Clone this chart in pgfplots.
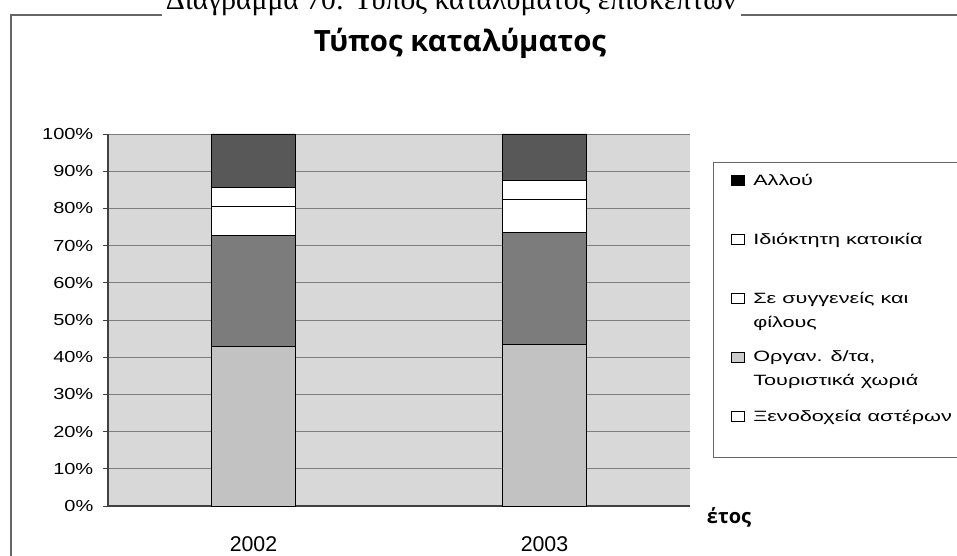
\documentclass[border=0pt]{standalone}
\usepackage{pgfplots}
\pgfplotsset{compat=1.18}
\usepackage{fontspec}
\setmainfont{Liberation Sans}
\newfontfamily\tickfont[FakeStretch=1.25]{Liberation Sans}
\newfontfamily\legfont[FakeStretch=1.45]{Liberation Sans}
\newfontfamily\titlefont{Open Sans}
\newfontfamily\capfont{Liberation Serif}
\definecolor{bg}{RGB}{216,216,216}
\definecolor{c1}{RGB}{194,194,194}
\definecolor{c2}{RGB}{124,124,124}
\definecolor{c5}{RGB}{88,88,88}
\definecolor{gridc}{RGB}{125,125,125}
\newcommand{\legimg}[1]{\path[draw=none,fill=none] (0pt,-13pt) rectangle (9.75pt,13pt); \draw[black,line width=0.6pt,fill=#1] (0pt,4.85pt) rectangle (9.75pt,12.35pt);}
\begin{document}
\begin{tikzpicture}
\useasboundingbox (0pt,0pt) rectangle (717.75pt,-417pt);
\clip (0pt,0pt) rectangle (717.75pt,-417pt);
\begin{scope}[x=0.75pt,y=-0.75pt]
  \draw[gray!80!black,line width=0.8pt] (11,600) -- (11,15) -- (162,15);
  \draw[gray!80!black,line width=0.8pt] (741,15) -- (970,15);
  \node[anchor=base,inner sep=0pt] at (451,10) {\capfont\fontsize{22.2pt}{24pt}\selectfont Διάγραμμα 70: Τύπος καταλύματος επισκεπτών};
  \node[anchor=base,inner sep=0pt] at (460,52) {\titlefont\bfseries\fontsize{22pt}{24pt}\selectfont Τύπος καταλύματος};
  \node[anchor=base,inner sep=0pt] at (729,523.5) {\titlefont\bfseries\fontsize{15pt}{18pt}\selectfont έτος};
\end{scope}
\begin{axis}[
  at={(81pt,-379.5pt)}, anchor=south west,
  scale only axis, width=436.5pt, height=279pt,
  ybar stacked, bar width=63pt,
  xmin=-0.5, xmax=1.5, ymin=0, ymax=100,
  enlargelimits=false,
  axis x line=bottom, axis y line=left,
  axis line style={-, draw=black!75, line width=0.8pt},
  axis background/.style={fill=bg},
  xtick={0,1}, xticklabels={2002,2003},
  major x tick style={draw=none},
  extra x ticks={0.5},
  extra x tick labels={},
  extra x tick style={major tick style={draw=black!70}, tick align=outside, major tick length=3.75pt, grid=none},
  xticklabel style={font=\fontsize{16pt}{18pt}\selectfont, anchor=base, yshift=-30pt},
  ytick={0,10,...,100},
  yticklabels={0\%,10\%,20\%,30\%,40\%,50\%,60\%,70\%,80\%,90\%,100\%},
  yticklabel style={font=\tickfont\fontsize{12pt}{14pt}\selectfont, anchor=east, xshift=-3.75pt},
  tick align=outside, major tick length=3.75pt,
  y tick style={draw=black!75, line width=0.7pt},
  ymajorgrids, grid style={draw=gridc, line width=0.7pt},
  reverse legend,
  legend style={at={(1.0395,0.926)}, anchor=north west, draw=black!60, line width=0.7pt, fill=white,
    inner xsep=13.5pt, inner ysep=9pt, row sep=18pt, column sep=6pt,
    font=\legfont\fontsize{11.2pt}{18pt}\selectfont,
    nodes={inner sep=0pt, text depth=}, cells={anchor=west}},
  every axis plot/.append style={draw=black, line width=0.7pt},
]
\addplot[fill=c1, legend image code/.code={\legimg{white}}] coordinates {(0,42.8) (1,43.3)};
\addlegendentry{\parbox[c][26.25pt][t]{160pt}{Ξενοδοχεία αστέρων}}
\addplot[fill=c2, legend image code/.code={\legimg{black!20}}] coordinates {(0,30.0) (1,30.1)};
\addlegendentry{\parbox[c][26.25pt][t]{160pt}{Οργαν. δ/τα,\\Τουριστικά χωριά}}
\addplot[fill=white, legend image code/.code={\legimg{white}}] coordinates {(0,7.8) (1,9.1)};
\addlegendentry{\parbox[c][26.25pt][t]{160pt}{Σε συγγενείς και\\φίλους}}
\addplot[fill=white, legend image code/.code={\legimg{white}}] coordinates {(0,4.9) (1,4.9)};
\addlegendentry{\parbox[c][26.25pt][t]{160pt}{Ιδιόκτητη κατοικία}}
\addplot[fill=c5, legend image code/.code={\legimg{black}}] coordinates {(0,14.5) (1,12.6)};
\addlegendentry{\parbox[c][26.25pt][t]{160pt}{Αλλού}}
\end{axis}
\end{tikzpicture}
\end{document}
